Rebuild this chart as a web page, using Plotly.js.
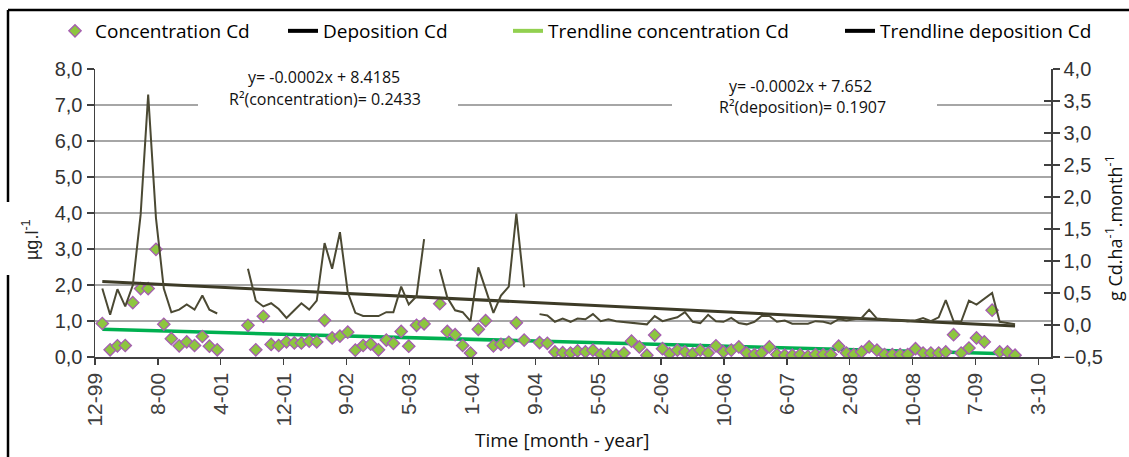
<!DOCTYPE html>
<html>
<head>
<meta charset="utf-8">
<script src="https://cdn.plot.ly/plotly-3.0.1.min.js"></script>
<style>html,body{margin:0;padding:0;background:#fff;}#chart{width:1129px;height:457px;}</style>
</head>
<body>
<div id="chart"></div>
<script>
// Monthly sampling (first day of month)
const months = [
"2000-01","2000-02","2000-03","2000-04","2000-05","2000-06","2000-07","2000-08","2000-09","2000-10","2000-11","2000-12",
"2001-01","2001-02","2001-03","2001-04","2001-05","2001-06","2001-07","2001-08","2001-09","2001-10","2001-11","2001-12",
"2002-01","2002-02","2002-03","2002-04","2002-05","2002-06","2002-07","2002-08","2002-09","2002-10","2002-11","2002-12",
"2003-01","2003-02","2003-03","2003-04","2003-05","2003-06","2003-07","2003-08","2003-09","2003-10","2003-11","2003-12",
"2004-01","2004-02","2004-03","2004-04","2004-05","2004-06","2004-07","2004-08","2004-09","2004-10","2004-11","2004-12",
"2005-01","2005-02","2005-03","2005-04","2005-05","2005-06","2005-07","2005-08","2005-09","2005-10","2005-11","2005-12",
"2006-01","2006-02","2006-03","2006-04","2006-05","2006-06","2006-07","2006-08","2006-09","2006-10","2006-11","2006-12",
"2007-01","2007-02","2007-03","2007-04","2007-05","2007-06","2007-07","2007-08","2007-09","2007-10","2007-11","2007-12",
"2008-01","2008-02","2008-03","2008-04","2008-05","2008-06","2008-07","2008-08","2008-09","2008-10","2008-11","2008-12",
"2009-01","2009-02","2009-03","2009-04","2009-05","2009-06","2009-07","2009-08","2009-09","2009-10","2009-11","2009-12"
];

// Concentration Cd [µg/l] (left axis)
const concentrationCd = [
0.93,0.20,0.31,0.32,1.51,1.90,1.90,2.99,0.91,0.51,0.31,0.42,
0.32,0.57,0.30,0.20,null,null,null,0.88,0.20,1.13,0.35,0.32,
0.42,0.39,0.39,0.44,0.42,1.02,0.53,0.58,0.69,0.19,0.32,0.36,
0.20,0.47,0.38,0.71,0.30,0.88,0.92,null,1.48,0.71,0.62,0.32,
0.11,0.77,1.01,0.31,0.35,0.41,0.95,0.47,null,0.40,0.38,0.14,
0.12,0.11,0.17,0.14,0.19,0.07,0.09,0.05,0.11,0.44,0.28,0.05,
0.61,0.23,0.09,0.19,0.14,0.09,0.19,0.11,0.31,0.14,0.19,0.28,
0.11,0.07,0.11,0.28,0.07,0.05,0.05,0.07,0.02,0.07,0.07,0.07,
0.30,0.11,0.07,0.14,0.28,0.19,0.07,0.07,0.07,0.07,0.23,0.11,
0.11,0.11,0.14,0.62,0.11,0.25,0.53,0.42,1.30,0.14,0.14,0.05
];

// Deposition Cd [g Cd/ha/month] (right axis)
const depositionCd = [
0.57,0.16,0.56,0.29,0.62,1.72,3.60,1.67,0.57,0.20,0.24,0.32,
0.24,0.46,0.24,0.18,null,null,null,0.88,0.38,0.29,0.34,0.25,
0.11,0.23,0.34,0.24,0.38,1.28,0.88,1.45,0.51,0.19,0.14,0.14,
0.14,0.20,0.20,0.60,0.32,0.45,1.34,null,0.87,0.43,0.23,0.20,
0.06,0.90,0.56,0.19,0.46,0.60,1.74,0.59,null,0.17,0.15,0.05,
0.10,0.05,0.10,0.09,0.17,0.06,0.09,0.06,0.05,0.03,0.02,0.01,
0.14,0.06,0.09,0.12,0.20,0.05,0.03,0.16,0.06,0.05,0.11,0.03,
0.01,0.05,0.14,0.14,0.05,0.07,0.02,0.02,0.02,0.06,0.05,0.02,
0.09,0.07,0.09,0.11,0.24,0.10,0.09,0.07,0.07,0.06,0.07,0.11,
0.06,0.12,0.39,0.06,0.05,0.38,0.32,0.41,0.50,0.05,0.03,0.01
];

// Linear trendlines (end points)
const trendX = ["2000-01","2009-12"];
const trendConcentration = [0.77, 0.08];
const trendDeposition = [0.68, -0.016];

// Axis tick labels
const xTickText = ["12-99","8-00","4-01","12-01","9-02","5-03","1-04","9-04","5-05","2-06","10-06","6-07","2-08","10-08","7-09","3-10"];

const names = ["Concentration Cd","Deposition Cd","Trendline concentration Cd","Trendline deposition Cd"];
const equations = ["y= -0.0002x + 8.4185","R\u00B2(concentration)= 0.2433","y= -0.0002x + 7.652","R\u00B2(deposition)= 0.1907"];

// layout helpers (pixel -> paper)
const L = 95, R = 1051, T = 69, B = 357;
const px = v => (v - L) / (R - L);
const py = v => (B - v) / (B - T);

const day = 86400000;
const t0 = Date.UTC(1999, 11, 3);
const tickStep = 249.6 * day;
const xTickVals = xTickText.map((_, k) => t0 + k * tickStep);
const xRange = [t0, t0 + (R - L) / 0.2520 * day];

const SANS = "Open Sans, Noto Sans, sans-serif";
const ARIAL = "Liberation Sans, Arial, sans-serif";

const traces = [
  {x: trendX, y: trendConcentration, type: "scatter", mode: "lines", yaxis: "y",
   line: {color: "#00B050", width: 3.5}, showlegend: false, hoverinfo: "skip"},
  {x: trendX, y: trendDeposition, type: "scatter", mode: "lines", yaxis: "y2",
   line: {color: "#3D3B27", width: 3}, showlegend: false, hoverinfo: "skip"},
  {x: months, y: depositionCd, type: "scatter", mode: "lines", yaxis: "y2",
   line: {color: "#4B4933", width: 2}, connectgaps: false, showlegend: false, name: names[1]},
  {x: months, y: concentrationCd, type: "scatter", mode: "markers", yaxis: "y", name: names[0],
   marker: {symbol: "diamond", size: 9.5, color: "#8DC63F", line: {color: "#A55DB0", width: 1.3}},
   legend: "legend"},
  // legend swatches
  {x: [null], y: [null], type: "scatter", mode: "lines", name: names[1], legend: "legend2",
   line: {color: "#000000", width: 4}},
  {x: [null], y: [null], type: "scatter", mode: "lines", name: names[2], legend: "legend3",
   line: {color: "#92D050", width: 4}},
  {x: [null], y: [null], type: "scatter", mode: "lines", name: names[3], legend: "legend4",
   line: {color: "#000000", width: 4}},
  // invisible carrier for the crossing tick marks of the right axis
  {x: [null], y: [null], type: "scatter", mode: "lines", yaxis: "y3", showlegend: false, hoverinfo: "skip"}
];

const legendBase = {orientation: "h", yanchor: "middle", xanchor: "left", y: py(31),
  bgcolor: "rgba(0,0,0,0)", borderwidth: 0, font: {family: SANS, size: 19, color: "#000"}};

const eqFont = {family: SANS, size: 16, color: "#111"};

const layout = {
  width: 1129, height: 457, autosize: false,
  margin: {l: L, r: 1129 - R, t: T, b: 457 - B, pad: 0},
  paper_bgcolor: "#ffffff", plot_bgcolor: "#ffffff",
  separators: ", ",
  showlegend: true,
  legend: Object.assign({}, legendBase, {x: px(55)}),
  legend2: Object.assign({}, legendBase, {x: px(283)}),
  legend3: Object.assign({}, legendBase, {x: px(508)}),
  legend4: Object.assign({}, legendBase, {x: px(840)}),
  xaxis: {
    type: "date", range: xRange, tickmode: "array", tickvals: xTickVals, ticktext: xTickText,
    tickangle: -90, ticks: "outside", ticklen: 6, tickwidth: 1.3, tickcolor: "#404040",
    showline: true, linecolor: "#404040", linewidth: 1.5, showgrid: false, zeroline: false,
    tickfont: {family: ARIAL, size: 21, color: "#404040"}
  },
  yaxis: {
    range: [0, 8], dtick: 1, tick0: 0, tickformat: ".1f",
    ticks: "outside", ticklen: 7, tickwidth: 1.3, tickcolor: "#404040",
    showline: true, linecolor: "#404040", linewidth: 1.5,
    showgrid: true, gridcolor: "#A6A6A6", gridwidth: 1.5, zeroline: false,
    tickfont: {family: ARIAL, size: 20, color: "#333333"}
  },
  yaxis2: {
    overlaying: "y", side: "right", range: [-0.5, 4], dtick: 0.5, tick0: 0, tickformat: ".1f",
    ticks: "outside", ticklen: 7, tickwidth: 1.3, tickcolor: "#404040",
    showline: true, linecolor: "#404040", linewidth: 1.5, showgrid: false, zeroline: false,
    tickfont: {family: ARIAL, size: 20, color: "#333333"}
  },
  yaxis3: {
    overlaying: "y", side: "right", range: [-0.5, 4], dtick: 0.5, tick0: 0,
    ticks: "inside", ticklen: 7, tickwidth: 1.3, tickcolor: "#404040",
    showticklabels: false, showline: false, showgrid: false, zeroline: false
  },
  shapes: [
    {type: "rect", xref: "paper", yref: "paper", x0: px(198), x1: px(458), y0: py(120), y1: py(58),
     fillcolor: "#ffffff", line: {width: 0}, layer: "above"},
    {type: "rect", xref: "paper", yref: "paper", x0: px(672), x1: px(937), y0: py(120), y1: py(58),
     fillcolor: "#ffffff", line: {width: 0}, layer: "above"},
    {type: "line", xref: "paper", yref: "paper", x0: px(8), x1: px(1130), y0: py(10), y1: py(10),
     line: {color: "#000", width: 2.5}, layer: "above"},
    {type: "line", xref: "paper", yref: "paper", x0: px(8), x1: px(8), y0: py(10), y1: py(202),
     line: {color: "#000", width: 2.5}, layer: "above"},
    {type: "line", xref: "paper", yref: "paper", x0: px(8), x1: px(8), y0: py(275), y1: py(460),
     line: {color: "#000", width: 2.5}, layer: "above"}
  ],
  annotations: [
    {text: equations[0], xref: "paper", yref: "paper", x: px(246), y: py(77), showarrow: false,
     xanchor: "left", yanchor: "middle", font: eqFont},
    {text: equations[1], xref: "paper", yref: "paper", x: px(227), y: py(99), showarrow: false,
     xanchor: "left", yanchor: "middle", font: eqFont},
    {text: equations[2], xref: "paper", yref: "paper", x: px(727), y: py(86), showarrow: false,
     xanchor: "left", yanchor: "middle", font: eqFont},
    {text: equations[3], xref: "paper", yref: "paper", x: px(717), y: py(107), showarrow: false,
     xanchor: "left", yanchor: "middle", font: eqFont},
    {text: "Time [month - year]", xref: "paper", yref: "paper", x: px(562), y: py(440), showarrow: false,
     xanchor: "center", yanchor: "middle", font: {family: SANS, size: 19, color: "#111"}},
    {text: "µg.l<sup>-1</sup>", xref: "paper", yref: "paper", x: px(30), y: py(240), showarrow: false,
     textangle: -90, xanchor: "center", yanchor: "middle", font: {family: ARIAL, size: 18, color: "#222"}},
    {text: "g Cd.ha<sup>-1</sup>.month<sup>-1</sup>", xref: "paper", yref: "paper", x: px(1114), y: py(228), showarrow: false,
     textangle: -90, xanchor: "center", yanchor: "middle", font: {family: SANS, size: 18, color: "#111"}}
  ]
};

Plotly.newPlot("chart", traces, layout, {displayModeBar: false, staticPlot: true});
</script>
</body>
</html>
